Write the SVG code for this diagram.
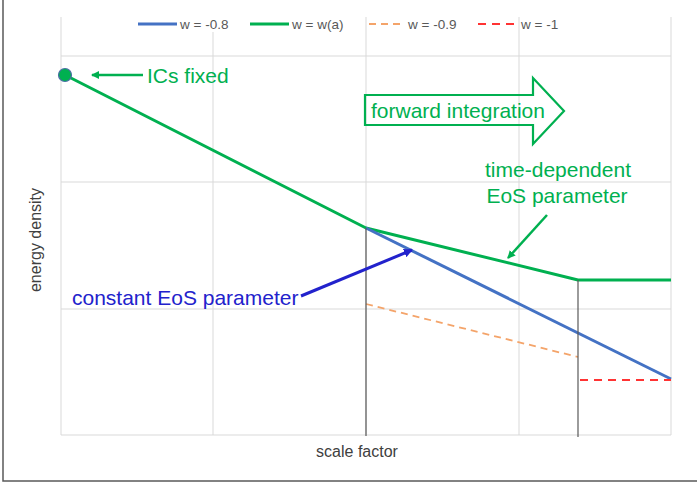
<svg xmlns="http://www.w3.org/2000/svg" width="697" height="488" viewBox="0 0 697 488">
  <style>
    .grid { stroke: #D9D9D9; stroke-width: 1; fill: none; }
    .frame { stroke: #595959; stroke-width: 1.5; fill: none; }
    .marker-line { stroke: #595959; stroke-width: 1.2; fill: none; }
    .legend { font-family: "Liberation Sans", Arial, sans-serif; font-size: 13.5px; fill: #595959; }
    .axis { font-family: "Liberation Sans", Arial, sans-serif; font-size: 16px; fill: #404040; }
    .note { font-family: "Liberation Sans", Arial, sans-serif; font-size: 21px; }
    .green { fill: #00B050; }
    .blue { fill: #2222CC; }
    .s-green { stroke: #00B050; stroke-width: 3; fill: none; stroke-linejoin: round; }
    .s-blue { stroke: #4472C4; stroke-width: 3; fill: none; }
    .s-orange { stroke: #F4A46A; stroke-width: 1.8; fill: none; stroke-dasharray: 7 5; }
    .s-red { stroke: #FF3333; stroke-width: 2; fill: none; stroke-dasharray: 8 6; }
  </style>
  <defs>
    <marker id="headGreen" markerWidth="8" markerHeight="8" refX="7" refY="4" orient="auto" markerUnits="userSpaceOnUse">
      <path d="M0,0 L8,4 L0,8 Z" fill="#00B050"/>
    </marker>
    <marker id="headBlue" markerWidth="9" markerHeight="9" refX="8" refY="4.5" orient="auto" markerUnits="userSpaceOnUse">
      <path d="M0,0 L9,4.5 L0,9 Z" fill="#2222CC"/>
    </marker>
  </defs>

  <rect width="697" height="488" fill="#FFFFFF"/>

  <!-- outer frame (left and bottom edges) -->
  <path class="frame" d="M3,0 V481 H697"/>

  <!-- plot grid -->
  <g id="grid">
    <path class="grid" d="M61,17 V435 M213,17 V435 M366,17 V435 M519,17 V435 M671,17 V435"/>
    <path class="grid" d="M61,56 H671 M61,182 H671 M61,309 H671 M61,435 H671"/>
  </g>

  <!-- legend -->
  <g id="legend">
    <rect x="136" y="14" width="220" height="18" fill="#FFFFFF"/>
    <line x1="138" y1="24" x2="177" y2="24" class="s-blue"/>
    <text class="legend" x="180" y="29">w = -0.8</text>
    <line x1="250" y1="24" x2="289" y2="24" class="s-green"/>
    <text class="legend" x="292" y="29">w = w(a)</text>
    <line x1="369" y1="24" x2="405" y2="24" class="s-orange"/>
    <text class="legend" x="408" y="29">w = -0.9</text>
    <line x1="478" y1="24" x2="517" y2="24" class="s-red"/>
    <text class="legend" x="521" y="29">w = -1</text>
  </g>

  <!-- data series -->
  <g id="series">
    <polyline id="series-wa" class="s-green" points="65,75 366,228 578,280 671,280"/>
    <line id="series-08" class="s-blue" x1="366" y1="228" x2="671" y2="379"/>
    <line id="series-09" class="s-orange" x1="366" y1="304" x2="578" y2="357"/>
    <line id="series-1" class="s-red" x1="580" y1="380" x2="671" y2="380"/>
    <circle id="ic-point" cx="65" cy="75" r="6.5" fill="#00B050" stroke="#4A6FA5" stroke-width="1.2"/>
  </g>

  <!-- transition markers -->
  <g id="markers">
    <line class="marker-line" x1="366" y1="228" x2="366" y2="436"/>
    <line class="marker-line" x1="578" y1="280" x2="578" y2="437"/>
  </g>

  <!-- axis titles -->
  <text class="axis" x="357" y="457" text-anchor="middle">scale factor</text>
  <text class="axis" transform="translate(41,240) rotate(-90)" text-anchor="middle">energy density</text>

  <!-- annotation nodes -->
  <g id="ics-fixed">
    <text class="note green" x="147" y="83">ICs fixed</text>
  </g>
  <g id="forward-integration">
    <path d="M365,95 H533 V78 L564,111 L533,144 V125 H365 Z" fill="none" stroke="#00B050" stroke-width="2.2"/>
    <text class="note green" x="371" y="118" font-size="22">forward integration</text>
  </g>
  <g id="time-dependent">
    <text class="note green" x="558" y="177" text-anchor="middle" font-size="22">time-dependent</text>
    <text class="note green" x="557" y="203" text-anchor="middle">EoS parameter</text>
  </g>
  <g id="constant">
    <text class="note blue" x="72" y="305">constant EoS parameter</text>
  </g>

  <!-- connectors -->
  <g id="connectors">
    <line x1="143" y1="75" x2="92" y2="75" stroke="#00B050" stroke-width="2.5" marker-end="url(#headGreen)"/>
    <line x1="547" y1="215" x2="508" y2="258" stroke="#00B050" stroke-width="2.5" marker-end="url(#headGreen)"/>
    <line x1="301" y1="296" x2="412" y2="250" stroke="#2222CC" stroke-width="3" marker-end="url(#headBlue)"/>
  </g>
</svg>
